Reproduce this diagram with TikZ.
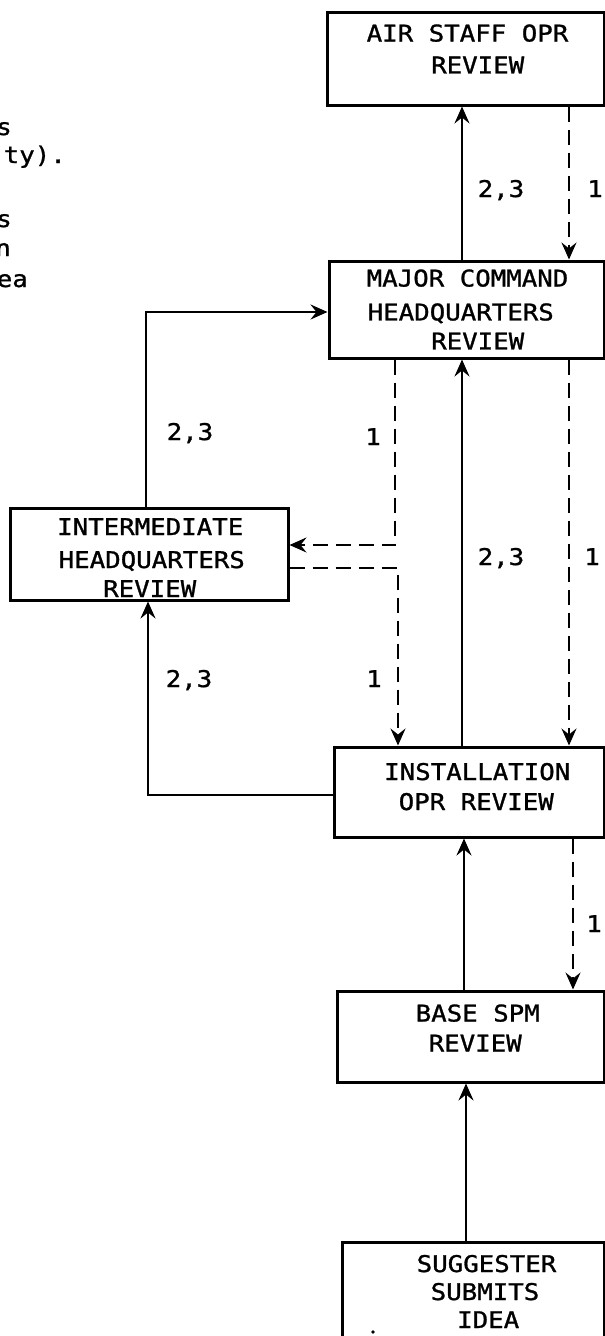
\documentclass[tikz,border=0pt]{standalone}
\usepackage{fontspec}
\newfontfamily\plotfont[FakeStretch=1.12,FakeBold=1.2]{DejaVu Sans Mono}
\usetikzlibrary{arrows.meta}
\begin{document}
\begin{tikzpicture}[x=1pt,y=-1pt,
  box/.style={draw,line width=3pt,rectangle,inner sep=0,anchor=center},
  lbl/.style={font=\plotfont\fontsize{23}{30}\selectfont,inner sep=0,anchor=base west},
  num/.style={font=\plotfont\fontsize{23}{30}\selectfont,inner sep=0,anchor=base},
  tip/.style={-{Stealth[length=17pt,width=15pt,inset=6pt]}},
  sol/.style={line width=2pt,tip},
  dsh/.style={line width=2pt,tip,dash pattern=on 15pt off 8pt}]
\useasboundingbox[fill=white] (0,0) rectangle (605,1336);

% boxes
\node[box,minimum width=277pt,minimum height=93pt] (air) at (465.5,58.5) {};
\node[box,minimum width=275pt,minimum height=97pt] (maj) at (466.5,309.5) {};
\node[box,minimum width=278pt,minimum height=92pt] (int) at (149,554) {};
\node[box,minimum width=270pt,minimum height=90pt] (inst) at (469,792) {};
\node[box,minimum width=267pt,minimum height=91pt] (base) at (470.5,1036.5) {};
\node[box,minimum width=262pt,minimum height=116pt] (sugg) at (473,1300) {};

% box texts
\node[lbl] (airA) at (366.5,41.5) {AIR STAFF OPR};
\node[lbl] (airB) at (431,73.4) {REVIEW};
\node[lbl] (majA) at (366.5,286.5) {MAJOR COMMAND};
\node[lbl] (majB) at (367.5,320.4) {HEADQUARTERS};
\node[lbl] (majC) at (431,349.4) {REVIEW};
\node[lbl] (intA) at (57,535) {INTERMEDIATE};
\node[lbl] (intB) at (58.5,568) {HEADQUARTERS};
\node[lbl] (intC) at (103,597) {REVIEW};
\node[lbl] (instA) at (384,780) {INSTALLATION};
\node[lbl] (instB) at (398.5,810) {OPR REVIEW};
\node[lbl] (baseA) at (415.5,1021.5) {BASE SPM};
\node[lbl] (baseB) at (428.5,1051.5) {REVIEW};
\node[lbl] (suggA) at (416.5,1272) {SUGGESTER};
\node[lbl] (suggB) at (430.5,1300) {SUBMITS};
\node[lbl] (suggC) at (457,1328) {IDEA};

% text cut off at the left edge, as in the reference
\node[lbl,anchor=base east] (fr1) at (12,135) {s};
\node[lbl,anchor=base east] (fr2) at (66,163) {ty).};
\node[lbl,anchor=base east] (fr3) at (12,227) {s};
\node[lbl,anchor=base east] (fr4) at (11,256) {n};
\node[lbl,anchor=base east] (fr5) at (28,287) {ea};

% helper coordinates
\coordinate (c146) at (146,0);
\coordinate (c148) at (148,0);
\coordinate (c395) at (395,0);
\coordinate (c398) at (398,0);
\coordinate (c462) at (462,0);
\coordinate (c464) at (464,0);
\coordinate (c466) at (466,0);
\coordinate (c569) at (569,0);
\coordinate (c573) at (573,0);
\coordinate (r312) at (0,312);
\coordinate (r545) at (0,545);
\coordinate (r568) at (0,568);
\coordinate (r795) at (0,795);

% connectors
\draw[sol] (maj.north -| c462) -- (air.south -| c462);
\draw[dsh] (air.south -| c569) -- (maj.north -| c569);
\draw[sol] (inst.north -| c462) -- (maj.south -| c462);
\draw[dsh] (maj.south -| c569) -- (inst.north -| c569);
\draw[dsh] (maj.south -| c395) |- (int.east |- r545);
\draw[dsh] (int.east |- r568) -| (inst.north -| c398);
\draw[sol] (int.north -| c146) |- (maj.west |- r312);
\draw[sol] (inst.west |- r795) -| (int.south -| c148);
\draw[sol] (base.north -| c464) -- (inst.south -| c464);
\draw[dsh] (inst.south -| c573) -- (base.north -| c573);
\draw[sol] (sugg.north -| c466) -- (base.south -| c466);

% connector labels
\node[num] (l1) at (501,197) {2,3};
\node[num] (l2) at (595,197) {1};
\node[num] (l3) at (190,440) {2,3};
\node[num] (l4) at (373,445) {1};
\node[num] (l5) at (501,565) {2,3};
\node[num] (l6) at (592,565) {1};
\node[num] (l7) at (189,687) {2,3};
\node[num] (l8) at (374,687) {1};
\node[num] (l9) at (594,932) {1};

% stray dot
\fill (373,1332) circle (1.8pt);
\end{tikzpicture}
\end{document}
